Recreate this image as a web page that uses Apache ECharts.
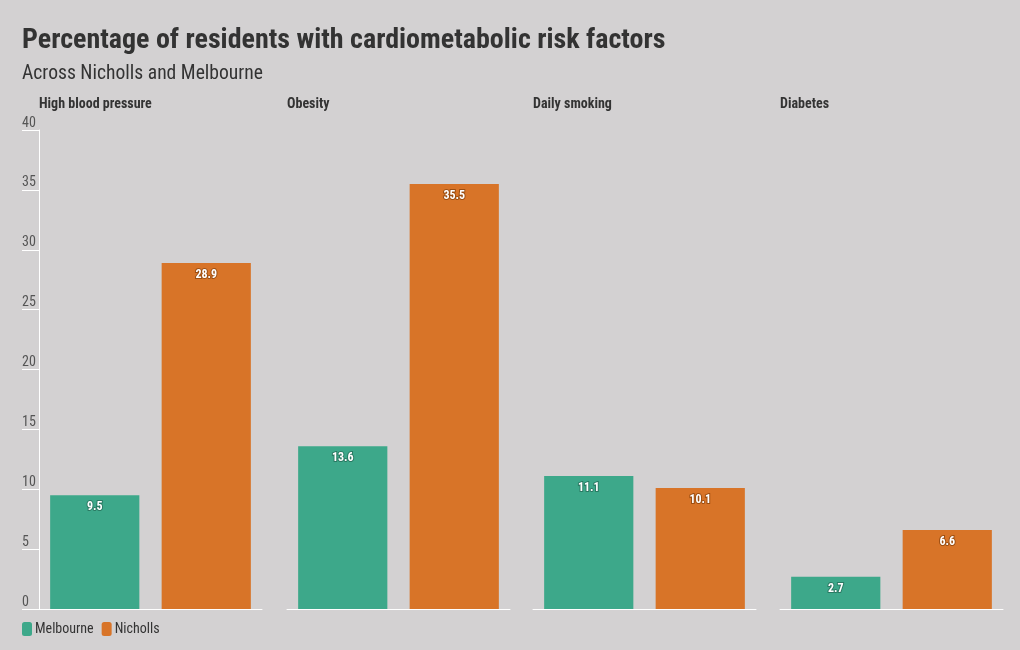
<!DOCTYPE html>
<html>
<head>
<meta charset="utf-8">
<script src="https://cdn.jsdelivr.net/npm/echarts@6/dist/echarts.min.js"></script>
<style>
html,body{margin:0;padding:0;background:#d3d1d2;}
#chart{width:1020px;height:650px;}
</style>
</head>
<body>
<div id="chart"></div>
<script>
const panels = ['High blood pressure', 'Obesity', 'Daily smoking', 'Diabetes'];
const regions = ['Melbourne', 'Nicholls'];
const melbourne = [9.5, 13.6, 11.1, 2.7];
const nicholls = [28.9, 35.5, 10.1, 6.6];
const yTicks = [0, 5, 10, 15, 20, 25, 30, 35, 40];

const FONT = '"Roboto Condensed", "Liberation Sans Narrow", "DejaVu Sans Condensed", Roboto, sans-serif';
const colors = { Melbourne: '#3da88a', Nicholls: '#d87428' };
const borderCol = { Melbourne: '#2a7a63', Nicholls: '#9c4e12' };

const panelLeft = [39, 287, 533, 780];
const panelWidth = 223;

const grids = [], xAxes = [], yAxes = [], series = [], titles = [];
titles.push({ text: 'Percentage of residents with cardiometabolic risk factors', left: 22, top: 27, padding: 0,
  textStyle: { fontFamily: FONT, fontSize: 28, fontWeight: 'bold', color: '#333' } });
titles.push({ text: 'Across Nicholls and Melbourne', left: 22, top: 64, padding: 0,
  textStyle: { fontFamily: FONT, fontSize: 19.6, fontWeight: 'normal', color: '#333' } });

panels.forEach((p, i) => {
  grids.push({ left: panelLeft[i], width: panelWidth, top: 130, height: 479 });
  titles.push({ text: p, left: panelLeft[i], top: 97, padding: 0,
    textStyle: { fontFamily: FONT, fontSize: 14, fontWeight: 'bold', color: '#333' } });
  xAxes.push({ type: 'category', gridIndex: i, data: regions,
    axisLine: { show: true, lineStyle: { color: '#ffffff', width: 1 } },
    axisTick: { show: false }, axisLabel: { show: false } });
  yAxes.push({ type: 'value', gridIndex: i, min: 0, max: 40, interval: 5,
    splitLine: { show: false },
    axisLine: { show: i === 0, lineStyle: { color: '#ffffff', width: 1 } },
    axisTick: { show: i === 0, length: 17, lineStyle: { color: '#ffffff', width: 1 } },
    axisLabel: { show: i === 0, align: 'left', verticalAlign: 'bottom', margin: 17,
      fontFamily: FONT, fontSize: 14, color: '#555',
      formatter: v => yTicks.includes(v) ? String(v) : '' } });
  const mk = (name, val, idx) => ({
    name, type: 'bar', xAxisIndex: i, yAxisIndex: i, stack: 'p' + i,
    barWidth: '80%',
    data: regions.map((r, k) => k === idx ? val : '-'),
    itemStyle: { color: colors[name] },
    label: { show: true, position: 'insideTop', distance: 6,
      fontFamily: FONT, fontSize: 12, fontWeight: 'bold', color: '#ffffff',
      textBorderColor: borderCol[name], textBorderWidth: 2,
      formatter: pr => pr.value.toFixed(1) }
  });
  series.push(mk('Melbourne', melbourne[i], 0));
  series.push(mk('Nicholls', nicholls[i], 1));
});

const chart = echarts.init(document.getElementById('chart'));
chart.setOption({
  backgroundColor: '#d3d1d2',
  animation: false,
  title: titles,
  legend: { data: regions, left: 17, top: 617, icon: 'roundRect', itemWidth: 10, itemHeight: 14,
    itemGap: 8, textStyle: { fontFamily: FONT, fontSize: 14, color: '#333', padding: [0, 0, 0, -2] } },
  grid: grids, xAxis: xAxes, yAxis: yAxes, series
});
</script>
</body>
</html>
